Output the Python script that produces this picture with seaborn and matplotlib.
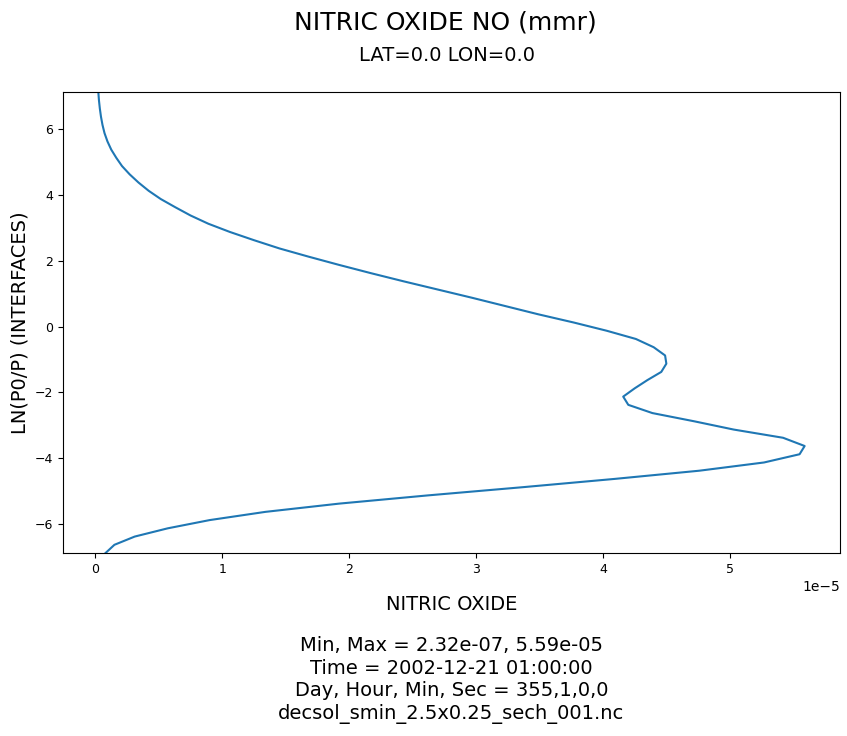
import matplotlib
matplotlib.use("Agg")
import matplotlib.pyplot as plt
import seaborn as sns
import pandas as pd

# interface levels ln(p0/p)
levels = [
    -6.875, -6.625, -6.375, -6.125, -5.875, -5.625, -5.375, -5.125,
    -4.875, -4.625, -4.375, -4.125, -3.875, -3.625, -3.375, -3.125,
    -2.875, -2.625, -2.375, -2.125, -1.875, -1.625, -1.375, -1.125,
    -0.875, -0.625, -0.375, -0.125, 0.125, 0.375, 0.625, 0.875,
    1.125, 1.375, 1.625, 1.875, 2.125, 2.375, 2.625, 2.875,
    3.125, 3.375, 3.625, 3.875, 4.125, 4.375, 4.625, 4.875,
    5.125, 5.375, 5.625, 5.875, 6.125, 6.375, 6.625, 6.875, 7.125,
]

# NO mass mixing ratio (x 1e-5)
no_mmr = [
    0.080, 0.150, 0.310, 0.570, 0.900, 1.340, 1.920, 2.620,
    3.370, 4.090, 4.760, 5.270, 5.550, 5.590, 5.420, 5.030,
    4.720, 4.390, 4.200, 4.160, 4.250, 4.350, 4.460, 4.500,
    4.490, 4.400, 4.260, 4.030, 3.770, 3.490, 3.230, 2.970,
    2.700, 2.430, 2.170, 1.920, 1.680, 1.450, 1.250, 1.060,
    0.890, 0.750, 0.630, 0.515, 0.420, 0.340, 0.270, 0.210,
    0.165, 0.125, 0.095, 0.072, 0.056, 0.044, 0.035, 0.028, 0.0232,
]

title = "NITRIC OXIDE NO (mmr)"
subtitle = "LAT=0.0 LON=0.0"
info_lines = [
    "Min, Max = 2.32e-07, 5.59e-05",
    "Time = 2002-12-21 01:00:00",
    "Day, Hour, Min, Sec = 355,1,0,0",
    "decsol_smin_2.5x0.25_sech_001.nc",
]

df = pd.DataFrame({"lev": levels, "no": [v * 1e-5 for v in no_mmr]})

fig = plt.figure(figsize=(8.47, 7.36), dpi=100)
ax = fig.add_axes([0.0744, 0.2486, 0.9173, 0.6264])

# profile: keep every point in order, no aggregation
sns.lineplot(data=df, x="no", y="lev", sort=False, estimator=None,
             errorbar=None, color="#1f77b4", linewidth=1.5, ax=ax)

ax.set_ylim(min(levels), max(levels))
ax.tick_params(labelsize=9)
ax.xaxis.get_offset_text().set_fontsize(10)
ax.set_xlabel("NITRIC OXIDE", fontsize=14, labelpad=14)
ax.set_ylabel("LN(P0/P) (INTERFACES)", fontsize=14)

fig.text(0.526, 0.970, title, ha="center", va="center", fontsize=18)
fig.text(0.528, 0.924, subtitle, ha="center", va="center", fontsize=14)
fig.text(0.533, 0.016, "\n".join(info_lines), ha="center", va="bottom",
         fontsize=14, linespacing=1.25)

fig.savefig("out.png", dpi=100)
